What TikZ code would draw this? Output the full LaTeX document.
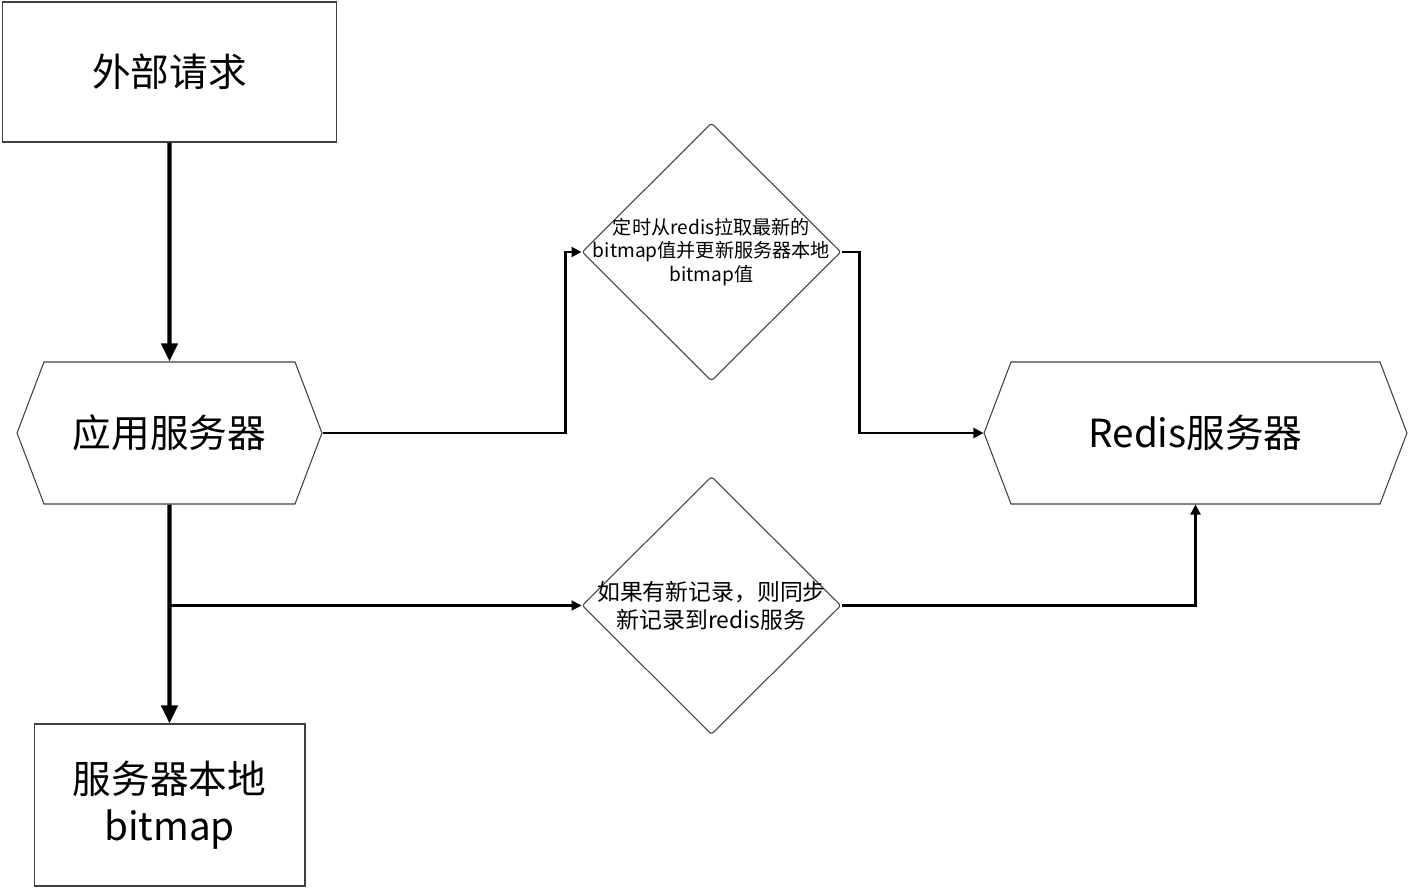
\documentclass[tikz,border=0pt]{standalone}
\usepackage{fontspec}
\setmainfont{Noto Sans CJK SC}
\usetikzlibrary{shapes.geometric,shapes.symbols,arrows.meta}

\tikzset{
  box/.style={draw=black!75, line width=0.6pt, align=center,
    font=\fontsize{22pt}{27pt}\selectfont},
  hexa/.style={box, shape=signal, signal to=west and east,
    signal pointer angle=138.4, minimum height=2.84cm, inner sep=0pt},
  decision/.style={draw=black!75, line width=0.6pt, shape=diamond, aspect=1,
    minimum width=5.18cm, minimum height=5.16cm, inner sep=0pt,
    rounded corners=1.5pt},
  note/.style={align=center, inner sep=0pt},
  bigarrow/.style={line width=2.4pt, -{Triangle[length=0.36cm,width=0.32cm]}},
  flow/.style={line width=1.2pt, -{Triangle[length=0.2cm,width=0.2cm]}},
}

\begin{document}
\begin{tikzpicture}[x=0.02cm, y=-0.02cm]
\useasboundingbox (0,0) rectangle (1409,888);
% boxes
\node[box, minimum width=6.7cm, minimum height=2.8cm] (req) at (169.5,72) {外部请求};
\node[hexa, minimum width=6.1cm] (app) at (169.5,433) {应用服务器};
\node[box, minimum width=5.42cm, minimum height=3.24cm] (local) at (169.5,805) {服务器本地\\bitmap};
\node[hexa, minimum width=8.46cm] (redis) at (1195.5,433) {Redis服务器};
% decisions, text laid over the diamond
\node[decision] (pull) at (711.5,252) {};
\node[note, font=\fontsize{10.9pt}{13.6pt}\selectfont] (pulltext) at (pull)
  {定时从redis拉取最新的\\bitmap值并更新服务器本地\\bitmap值};
\node[decision] (sync) at (711.5,605.5) {};
\node[note, font=\fontsize{13pt}{15.9pt}\selectfont] (synctext) at (sync)
  {如果有新记录，则同步\\新记录到redis服务};
% connectors
\draw[bigarrow] (req) -- (app);
\draw[bigarrow] (app) -- (local);
\draw[flow] (app.east) -- ++(243,0) |- (pull.west);
\draw[flow] (pull.east) -- ++(18,0) |- (redis.west);
\draw[flow] (app.south |- sync.west) -- (sync.west);
\draw[flow] (sync.east) -| (redis.south);
\end{tikzpicture}
\end{document}
